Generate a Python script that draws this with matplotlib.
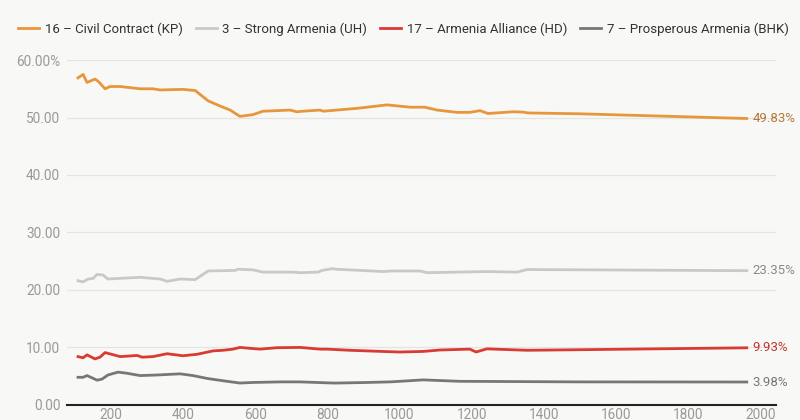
import matplotlib.pyplot as plt
from matplotlib.ticker import FuncFormatter

plt.rcParams['font.family'] = ['Roboto', 'DejaVu Sans']

# counted precincts (x) and share of vote (%)
kp_x = [108, 122, 133, 155, 164, 183, 197, 225, 280, 316, 336, 399, 433, 469, 502, 530, 557, 593,
        621, 660, 696, 715, 732, 779, 788, 826, 882, 965, 1029, 1070, 1104, 1159, 1195, 1223, 1245,
        1314, 1342, 1356, 1500, 1963]
kp_y = [56.9, 57.5, 56.1, 56.7, 56.3, 55.0, 55.4, 55.4, 55.0, 55.0, 54.8, 54.9, 54.7, 52.9, 52.0,
        51.3, 50.2, 50.5, 51.1, 51.2, 51.3, 51.0, 51.1, 51.3, 51.1, 51.3, 51.6, 52.2, 51.8, 51.8,
        51.3, 50.9, 50.9, 51.2, 50.7, 51.0, 50.95, 50.8, 50.65, 49.83]

uh_x = [108, 122, 136, 150, 161, 177, 191, 280, 336, 355, 391, 433, 469, 544, 552, 593, 621, 704,
        724, 774, 785, 813, 826, 954, 979, 1057, 1076, 1242, 1326, 1353, 1963]
uh_y = [21.6, 21.4, 21.9, 22.0, 22.7, 22.6, 21.9, 22.2, 21.9, 21.5, 21.9, 21.8, 23.3, 23.4, 23.6,
        23.5, 23.1, 23.1, 23.0, 23.1, 23.4, 23.7, 23.6, 23.2, 23.3, 23.3, 23.0, 23.2, 23.1, 23.55,
        23.35]

hd_x = [108, 122, 133, 155, 169, 183, 225, 272, 286, 316, 355, 399, 438, 483, 510, 538, 557, 593,
        613, 660, 724, 779, 799, 862, 973, 1001, 1065, 1112, 1195, 1212, 1242, 1353, 1500, 1963]
hd_y = [8.4, 8.2, 8.7, 8.0, 8.3, 9.1, 8.4, 8.6, 8.3, 8.4, 8.9, 8.55, 8.8, 9.4, 9.5, 9.7, 10.0, 9.8,
        9.7, 9.95, 10.0, 9.7, 9.7, 9.5, 9.25, 9.2, 9.3, 9.55, 9.7, 9.2, 9.75, 9.5, 9.6, 9.93]

bhk_x = [108, 122, 133, 161, 175, 191, 219, 244, 280, 327, 391, 427, 466, 510, 557, 593, 668, 724,
         815, 826, 910, 973, 1001, 1065, 1167, 1500, 1963]
bhk_y = [4.8, 4.8, 5.1, 4.3, 4.5, 5.2, 5.7, 5.5, 5.1, 5.2, 5.4, 5.1, 4.6, 4.2, 3.8, 3.9, 4.0, 4.0,
         3.8, 3.8, 3.9, 4.0, 4.1, 4.35, 4.1, 4.0, 3.98]

series = [
    ('16 – Civil Contract (KP)', kp_x, kp_y, '#e8963c', '#b5773a'),
    ('3 – Strong Armenia (UH)', uh_x, uh_y, '#c9c9c9', '#8a8a8a'),
    ('17 – Armenia Alliance (HD)', hd_x, hd_y, '#d93a32', '#c2352e'),
    ('7 – Prosperous Armenia (BHK)', bhk_x, bhk_y, '#777777', '#777777'),
]

bg = '#f8f8f6'
fig = plt.figure(figsize=(8, 4.2), dpi=100, facecolor=bg)
ax = fig.add_axes([0.084, 0.036, 0.886, 0.821], facecolor=bg)

for name, xs, ys, c, tc in series:
    ax.plot(xs, ys, color=c, lw=2, label=name, solid_joinstyle='round')
    ax.annotate(f'{ys[-1]:.2f}%', (xs[-1], ys[-1]), xytext=(4, 0), textcoords='offset points',
                va='center', ha='left', color=tc, fontsize=9.5, annotation_clip=False)

ax.set_xlim(78, 2044)
ax.set_ylim(0, 60)
ax.set_yticks([0, 10, 20, 30, 40, 50, 60])
ax.set_xticks(range(200, 2001, 200))
ax.yaxis.set_major_formatter(FuncFormatter(lambda v, p: f'{v:.2f}%' if v == 60 else f'{v:.2f}'))
ax.grid(axis='y', color='#e4e4e4', lw=0.9)
ax.set_axisbelow(True)
for s in ['top', 'right', 'left']:
    ax.spines[s].set_visible(False)
ax.spines['bottom'].set_color('#222222')
ax.spines['bottom'].set_linewidth(1.5)
ax.tick_params(axis='both', length=0, labelsize=9.8, labelcolor='#999999')
ax.tick_params(axis='y', pad=5)
ax.tick_params(axis='x', pad=2)

fig.legend(loc='upper left', bbox_to_anchor=(0.008, 0.975), ncol=4, frameon=False,
           fontsize=9.5, handlelength=1.6, handletextpad=0.4, columnspacing=1.0,
           labelcolor='#333333')

fig.savefig('out.png', dpi=100, facecolor=bg)
